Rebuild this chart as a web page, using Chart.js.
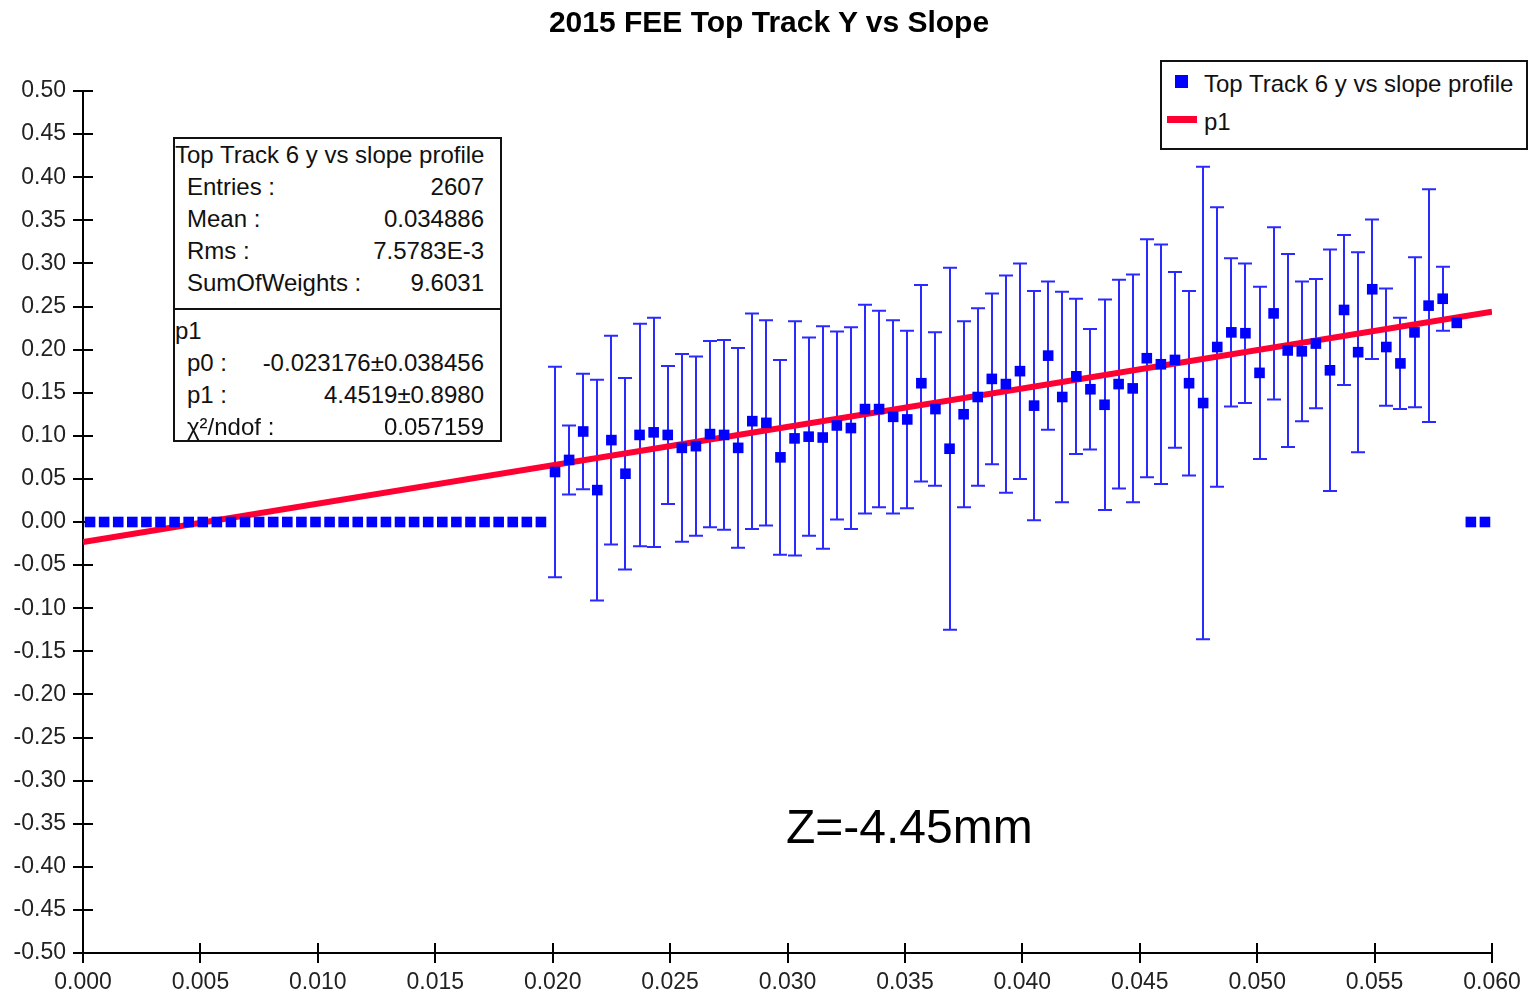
<!DOCTYPE html>
<html>
<head>
<meta charset="utf-8">
<title>2015 FEE Top Track Y vs Slope</title>
<script src="https://cdn.jsdelivr.net/npm/chart.js@4.4.1/dist/chart.umd.min.js"></script>
<style>
  body { margin: 0; background: #fff; font-family: "Liberation Sans", Arial, sans-serif; }
  #wrap { position: relative; width: 1531px; height: 995px; overflow: hidden; }
  #c { position: absolute; left: 0; top: 0; }
  #title { position: absolute; left: 9px; width: 1520px; top: 4px; text-align: center; font-size: 30px; line-height: 36px; font-weight: bold; color: #000; white-space: nowrap; }
  .box { position: absolute; border: 2px solid #111; background: #fff; color: #111; font-size: 24px; }
  .row { position: absolute; height: 32px; line-height: 32px; white-space: nowrap; }
  .lab { position: absolute; left: 0; }
  .val { position: absolute; right: 0; }
  #zlabel { position: absolute; left: 786px; top: 803px; font-size: 48px; line-height: 47px; color: #000; white-space: nowrap; }
</style>
</head>
<body>
<div id="wrap">
  <canvas id="c" width="1531" height="995"></canvas>
  <div id="title">2015 FEE Top Track Y vs Slope</div>
  <div id="stats" class="box" style="left:173px; top:137px; width:325px; height:301px;"></div>
  <div id="legend" class="box" style="left:1160px; top:60px; width:364px; height:86px;"></div>
  <div id="zlabel">Z=-4.45mm</div>
</div>
<script>
// bin centres of the profile (100 bins from 0 to 0.06)
var slopeBins = [
  0.0003, 0.0009, 0.0015, 0.0021, 0.0027, 0.0033, 0.0039, 0.0045, 0.0051, 0.0057,
  0.0063, 0.0069, 0.0075, 0.0081, 0.0087, 0.0093, 0.0099, 0.0105, 0.0111, 0.0117,
  0.0123, 0.0129, 0.0135, 0.0141, 0.0147, 0.0153, 0.0159, 0.0165, 0.0171, 0.0177,
  0.0183, 0.0189, 0.0195, 0.0201, 0.0207, 0.0213, 0.0219, 0.0225, 0.0231, 0.0237,
  0.0243, 0.0249, 0.0255, 0.0261, 0.0267, 0.0273, 0.0279, 0.0285, 0.0291, 0.0297,
  0.0303, 0.0309, 0.0315, 0.0321, 0.0327, 0.0333, 0.0339, 0.0345, 0.0351, 0.0357,
  0.0363, 0.0369, 0.0375, 0.0381, 0.0387, 0.0393, 0.0399, 0.0405, 0.0411, 0.0417,
  0.0423, 0.0429, 0.0435, 0.0441, 0.0447, 0.0453, 0.0459, 0.0465, 0.0471, 0.0477,
  0.0483, 0.0489, 0.0495, 0.0501, 0.0507, 0.0513, 0.0519, 0.0525, 0.0531, 0.0537,
  0.0543, 0.0549, 0.0555, 0.0561, 0.0567, 0.0573, 0.0579, 0.0585, 0.0591, 0.0597
];
var trackY = [
  0, 0, 0, 0, 0, 0, 0, 0, 0, 0,
  0, 0, 0, 0, 0, 0, 0, 0, 0, 0,
  0, 0, 0, 0, 0, 0, 0, 0, 0, 0,
  0, 0, 0, 0.058, 0.072, 0.105, 0.037, 0.095, 0.056, 0.101,
  0.104, 0.101, 0.086, 0.088, 0.102, 0.101, 0.086, 0.117, 0.115, 0.075,
  0.097, 0.099, 0.098, 0.112, 0.109, 0.131, 0.131, 0.122, 0.119, 0.161,
  0.131, 0.085, 0.125, 0.145, 0.166, 0.160, 0.175, 0.135, 0.193, 0.145,
  0.169, 0.154, 0.136, 0.160, 0.155, 0.190, 0.183, 0.188, 0.161, 0.138,
  0.203, 0.220, 0.219, 0.173, 0.242, 0.199, 0.198, 0.207, 0.176, 0.246,
  0.197, 0.270, 0.203, 0.184, 0.220, 0.251, 0.259, 0.231, 0, 0
];
var trackYErr = [
  0, 0, 0, 0, 0, 0, 0, 0, 0, 0,
  0, 0, 0, 0, 0, 0, 0, 0, 0, 0,
  0, 0, 0, 0, 0, 0, 0, 0, 0, 0,
  0, 0, 0, 0.122, 0.040, 0.067, 0.128, 0.121, 0.111, 0.129,
  0.133, 0.080, 0.109, 0.104, 0.108, 0.110, 0.116, 0.125, 0.119, 0.113,
  0.136, 0.115, 0.129, 0.109, 0.117, 0.121, 0.114, 0.112, 0.103, 0.114,
  0.089, 0.210, 0.108, 0.103, 0.099, 0.126, 0.125, 0.133, 0.086, 0.122,
  0.090, 0.070, 0.122, 0.121, 0.132, 0.138, 0.139, 0.102, 0.107, 0.274,
  0.162, 0.086, 0.081, 0.100, 0.100, 0.112, 0.081, 0.075, 0.140, 0.087,
  0.116, 0.081, 0.068, 0.053, 0.087, 0.135, 0.037, 0, 0, 0
];
// fitted line p1, end points as drawn
var fitX = [0.0, 0.060];
var fitY = [-0.0232, 0.2439];

var xTicks = [0.000, 0.005, 0.010, 0.015, 0.020, 0.025, 0.030, 0.035, 0.040, 0.045, 0.050, 0.055, 0.060];
var yTicks = [-0.50, -0.45, -0.40, -0.35, -0.30, -0.25, -0.20, -0.15, -0.10, -0.05, 0.00,
              0.05, 0.10, 0.15, 0.20, 0.25, 0.30, 0.35, 0.40, 0.45, 0.50];

var statTitle = 'Top Track 6 y vs slope profile';
var statLabels = ['Entries :', 'Mean :', 'Rms :', 'SumOfWeights :'];
var statValues = ['2607', '0.034886', '7.5783E-3', '9.6031'];
var fitTitle = 'p1';
var fitLabels = ['p0 :', 'p1 :', 'χ²/ndof :'];
var fitValues = ['-0.023176±0.038456', '4.4519±0.8980', '0.057159'];

var blue = '#0000ff';
var errBlue = '#2a2aff';
var red = '#ff0033';
var font = '"Liberation Sans", Arial, sans-serif';

var points = [];
for (var i = 0; i < slopeBins.length; i++) {
  points.push({x: slopeBins[i], y: trackY[i]});
}

// error bars for the profile points
var errorBars = {
  id: 'errorBars',
  beforeDatasetsDraw: function(chart) {
    var ctx = chart.ctx, xs = chart.scales.x, ys = chart.scales.y;
    ctx.save();
    ctx.strokeStyle = errBlue;
    ctx.lineWidth = 2;
    for (var i = 0; i < slopeBins.length; i++) {
      var e = trackYErr[i];
      if (!e) continue;
      var px = Math.round(xs.getPixelForValue(slopeBins[i]));
      var top = ys.getPixelForValue(trackY[i] + e);
      var bot = ys.getPixelForValue(trackY[i] - e);
      ctx.beginPath();
      ctx.moveTo(px, top); ctx.lineTo(px, bot);
      ctx.moveTo(px - 7, top); ctx.lineTo(px + 7, top);
      ctx.moveTo(px - 7, bot); ctx.lineTo(px + 7, bot);
      ctx.stroke();
    }
    ctx.restore();
  }
};

// tick marks also reach into the plot
var innerTicks = {
  id: 'innerTicks',
  beforeDatasetsDraw: function(chart) {
    var ctx = chart.ctx, xs = chart.scales.x, ys = chart.scales.y, a = chart.chartArea;
    ctx.save();
    ctx.strokeStyle = '#000';
    ctx.lineWidth = 2;
    ctx.beginPath();
    xs.ticks.forEach(function(t) {
      var px = Math.round(xs.getPixelForValue(t.value));
      ctx.moveTo(px, a.bottom); ctx.lineTo(px, a.bottom - 10);
    });
    ys.ticks.forEach(function(t) {
      var py = Math.round(ys.getPixelForValue(t.value));
      ctx.moveTo(a.left, py); ctx.lineTo(a.left + 10, py);
    });
    ctx.stroke();
    ctx.restore();
  }
};

var chart = new Chart(document.getElementById('c'), {
  type: 'scatter',
  data: {
    datasets: [
      {
        label: 'Top Track 6 y vs slope profile',
        data: points,
        pointStyle: 'rect',
        pointRadius: 7.5,
        pointBackgroundColor: blue,
        pointBorderWidth: 0,
        backgroundColor: blue,
        borderColor: blue,
        showLine: false,
        order: 0
      },
      {
        type: 'line',
        label: 'p1',
        data: [{x: fitX[0], y: fitY[0]}, {x: fitX[1], y: fitY[1]}],
        borderColor: red,
        backgroundColor: red,
        borderWidth: 6,
        pointRadius: 0,
        fill: false,
        order: 1
      }
    ]
  },
  options: {
    responsive: false,
    devicePixelRatio: 1,
    animation: false,
    layout: { padding: { left: 0, right: 39, top: 91, bottom: 0 } },
    plugins: {
      legend: { display: false },
      tooltip: { enabled: false },
      title: { display: false }
    },
    scales: {
      x: {
        type: 'linear',
        min: 0,
        max: 0.06,
        afterBuildTicks: function(s) { s.ticks = xTicks.map(function(v) { return {value: v}; }); },
        afterFit: function(s) { s.height = 42; },
        ticks: {
          color: '#222',
          padding: 6,
          maxRotation: 0,
          font: { family: font, size: 23 },
          callback: function(v) { return v.toFixed(3); }
        },
        grid: { display: true, drawOnChartArea: false, drawTicks: true, tickLength: 10, color: '#000', lineWidth: 2 },
        border: { display: true, color: '#000', width: 2 }
      },
      y: {
        type: 'linear',
        min: -0.5,
        max: 0.5,
        afterBuildTicks: function(s) { s.ticks = yTicks.map(function(v) { return {value: v}; }); },
        afterFit: function(s) { s.width = 83; },
        ticks: {
          color: '#222',
          padding: 7,
          font: { family: font, size: 23 },
          callback: function(v) { return (Math.abs(v) < 1e-9 ? 0 : v).toFixed(2); }
        },
        grid: { display: true, drawOnChartArea: false, drawTicks: true, tickLength: 10, color: '#000', lineWidth: 2 },
        border: { display: true, color: '#000', width: 2 }
      }
    }
  },
  plugins: [errorBars, innerTicks]
});

// stats box
function addRow(parent, top, left, right, label, value) {
  var r = document.createElement('div');
  r.className = 'row';
  r.style.top = top + 'px';
  r.style.left = left + 'px';
  r.style.right = right + 'px';
  var l = document.createElement('span');
  l.className = 'lab';
  l.textContent = label;
  r.appendChild(l);
  if (value) {
    var v = document.createElement('span');
    v.className = 'val';
    v.textContent = value;
    r.appendChild(v);
  }
  parent.appendChild(r);
}
var stats = document.getElementById('stats');
addRow(stats, 0, 0, 16, statTitle, '');
for (var k = 0; k < statLabels.length; k++) {
  addRow(stats, 32 * (k + 1), 12, 16, statLabels[k], statValues[k]);
}
var sep = document.createElement('div');
sep.style.cssText = 'position:absolute;left:0;right:0;top:169px;height:0;border-top:2px solid #111;';
stats.appendChild(sep);
addRow(stats, 176, 0, 16, fitTitle, '');
for (var k = 0; k < fitLabels.length; k++) {
  addRow(stats, 176 + 32 * (k + 1), 12, 16, fitLabels[k], fitValues[k]);
}

// legend built from the datasets
var legend = document.getElementById('legend');
chart.data.datasets.forEach(function(ds, j) {
  var sw = document.createElement('div');
  sw.style.position = 'absolute';
  sw.style.background = ds.borderColor;
  if (j === 0) {
    sw.style.cssText += 'left:13px;top:13px;width:13px;height:13px;';
  } else {
    sw.style.cssText += 'left:5px;top:54px;width:30px;height:7px;';
  }
  legend.appendChild(sw);
  var t = document.createElement('div');
  t.className = 'row';
  t.style.left = '42px';
  t.style.top = (j === 0 ? 6 : 44) + 'px';
  t.textContent = ds.label;
  legend.appendChild(t);
});
</script>
</body>
</html>
